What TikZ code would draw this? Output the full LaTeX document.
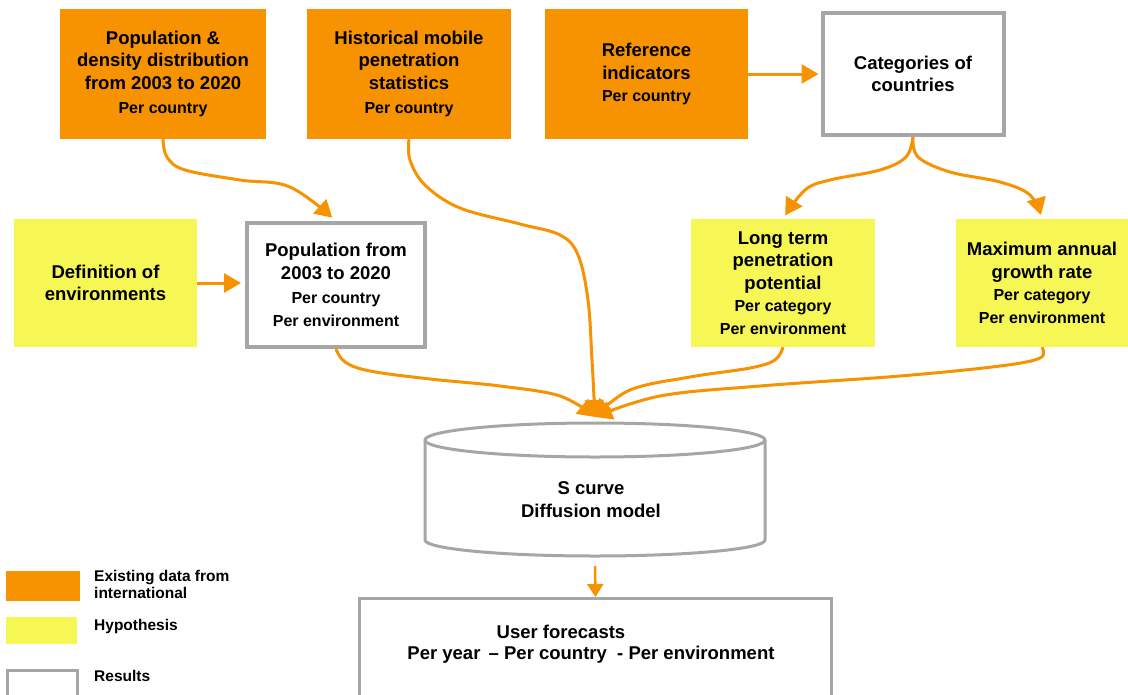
\documentclass[tikz,border=0pt]{standalone}
\usepackage{fontspec}
\setmainfont{Liberation Sans}
\usetikzlibrary{arrows.meta,calc}
\definecolor{orangeC}{RGB}{247,146,0}
\definecolor{yellowC}{RGB}{246,246,85}
\definecolor{grayC}{RGB}{166,166,166}
\newcommand{\smtxt}[1]{{\fontsize{16}{18}\selectfont #1}}
\begin{document}
\begin{tikzpicture}[x=1pt,y=1pt,
  base/.style={inner sep=0pt, align=center, font=\bfseries\fontsize{18.5}{22.5}\selectfont},
  orangebox/.style={base, fill=orangeC},
  yellowbox/.style={base, fill=yellowC},
  resultbox/.style={base, draw=grayC, line width=4pt, fill=white},
  legtext/.style={inner sep=0pt, align=left, anchor=west, font=\bfseries\fontsize{15.5}{17}\selectfont},
  flow/.style={draw=orangeC, line width=3pt, line join=round, -{Triangle[length=17pt,width=19pt]}},
  cylline/.style={draw=grayC, line width=3pt, line join=round}
]
\clip (0,-694) rectangle (1128,0);
\fill[white] (0,-694) rectangle (1128,0);

% top row
\node[orangebox, minimum width=206pt, minimum height=130pt] (A) at (163,-74)
  {Population \&\\density distribution\\from 2003 to 2020\\[2pt]\smtxt{Per country}\hspace*{0pt}};
\node[orangebox, minimum width=204pt, minimum height=130pt] (B) at (409,-74)
  {Historical mobile\\penetration\\statistics\\[2pt]\smtxt{Per country}};
\node[orangebox, minimum width=203pt, minimum height=130pt] (C) at (646.5,-74)
  {Reference\\indicators\\\smtxt{Per country}};
\node[resultbox, minimum width=181pt, minimum height=122pt] (D) at (913,-74)
  {Categories of\\countries};

% middle row
\node[yellowbox, minimum width=183pt, minimum height=128pt] (E) at (105.5,-283)
  {Definition of\\environments};
\node[resultbox, minimum width=178pt, minimum height=124pt] (F) at (336,-285)
  {Population from\\2003 to 2020\\[2pt]\smtxt{Per country}\\\smtxt{Per environment}};
\node[yellowbox, minimum width=184pt, minimum height=128pt] (G) at (783,-283)
  {Long term\\penetration\\potential\\\smtxt{Per category}\\\smtxt{Per environment}};
\node[yellowbox, minimum width=172pt, minimum height=128pt] (H) at (1042,-283)
  {Maximum annual\\growth rate\\\smtxt{Per category}\\\smtxt{Per environment}};

% cylinder
\draw[cylline, fill=white] (425,-440) -- (425,-540)
  arc[start angle=180, end angle=360, x radius=170, y radius=16] -- (765,-440);
\draw[cylline, fill=white] (595,-440) ellipse[x radius=170, y radius=17];
\node[base] (cyl) at (591,-499.5) {S curve\\Diffusion model};
\coordinate (cyltop) at (595,-417);
\coordinate (cylbot) at (595,-566);

% result box
\node[resultbox, line width=3pt, minimum width=472pt, minimum height=130pt] (I) at (595.5,-663.5) {};
\node[base] (I1) at (561,-632) {User forecasts};
\node[base] (I2) at (591,-655) {Per year \,– Per country\ \ - Per environment};

% legend
\node[orangebox, minimum width=74pt, minimum height=30pt] (L1) at (43,-586) {};
\node[yellowbox, minimum width=71pt, minimum height=27pt] (L2) at (41.5,-630.5) {};
\node[resultbox, line width=3pt, minimum width=70pt, minimum height=40pt] (L3) at (42.5,-690.5) {};
\node[legtext] (T1) at (94,-584.5) {Existing data from\\international};
\node[legtext] (T2) at (94,-626) {Hypothesis};
\node[legtext] (T3) at (94,-676) {Results};

% connectors
\draw[flow, shorten >=2pt] (C.east) -- (D.west);
\draw[flow, shorten >=4pt] (E.east) -- (E.east -| F.west);
\draw[flow, shorten >=5pt] plot[smooth, tension=0.6] coordinates
  {(A.south) (167,-157) (185,-170) (240,-180) (290,-187) (F.north)};
\draw[flow] plot[smooth, tension=0.6] coordinates
  {(B.south) (410,-160) (425,-185) (460,-208) (520,-224) (560,-235) (578,-255) (588,-300) (592,-360) (cyltop)};
\draw[flow] plot[smooth, tension=0.6] coordinates
  {(F.south) (345,-362) (370,-371) (430,-379) (500,-386) (560,-396) (cyltop)};
\draw[flow] plot[smooth, tension=0.6] coordinates
  {(G.south) (775,-360) (750,-368) (690,-377) (630,-390) (cyltop)};
\draw[flow] plot[smooth, tension=0.6] coordinates
  {(H.south) (1040,-358) (1000,-366) (900,-376) (760,-386) (660,-396) (cyltop)};
\draw[flow, shorten >=4pt] plot[smooth, tension=0.6] coordinates
  {(D.south) (906,-157) (880,-170) (830,-180) (805,-190) (G.north)};
\draw[flow, shorten >=4pt] plot[smooth, tension=0.6] coordinates
  {(D.south) (918,-157) (950,-172) (1000,-182) (1030,-195) (H.north)};
\draw[draw=orangeC, line width=2.5pt, -{Triangle[length=13pt,width=16pt]}] (cylbot) -- (I.north);
\end{tikzpicture}
\end{document}
